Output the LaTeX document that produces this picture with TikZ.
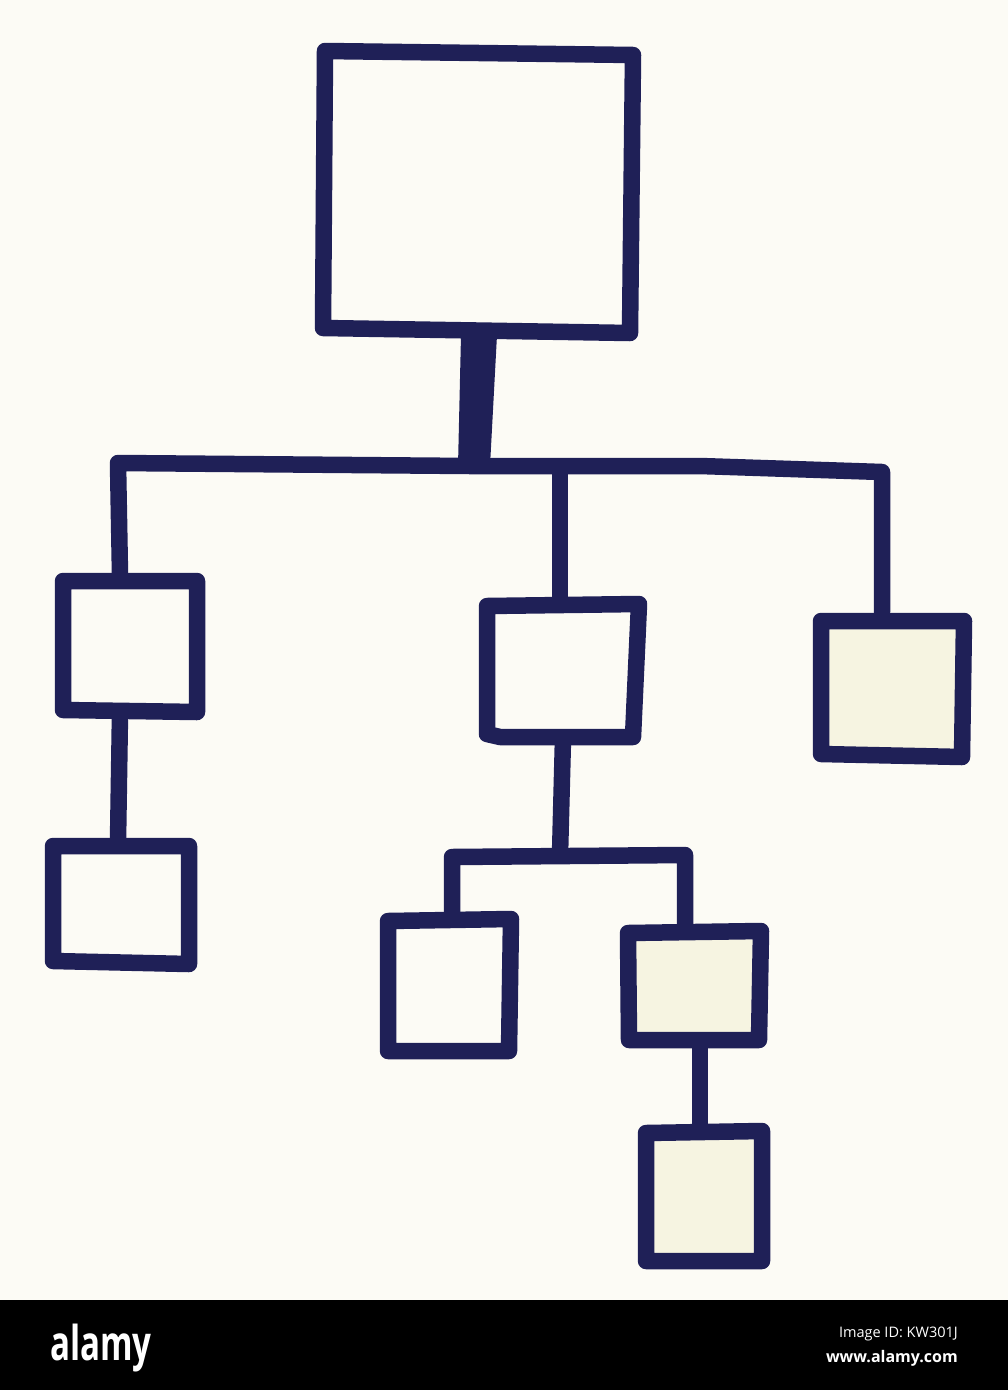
\documentclass[tikz,border=0pt]{standalone}
\usepackage{fontspec}
\setmainfont{Open Sans}
\definecolor{ink}{HTML}{1F2057}
\definecolor{paper}{HTML}{FCFBF5}
\definecolor{cream}{HTML}{F6F4E1}
\begin{document}
\begin{tikzpicture}[x=1pt,y=-1pt,
  inkline/.style={draw=ink,line width=16.5pt,line join=round,line cap=round},
  plainbox/.style={inkline,fill=paper},
  creambox/.style={inkline,fill=cream}]
\useasboundingbox (0,0) rectangle (1008,1390);
\fill[paper] (0,0) rectangle (1008,1300);
% connectors
\coordinate (c1) at (120,575);
\coordinate (c2) at (118,463);
\coordinate (c3) at (882,472);
\coordinate (c4) at (882,612);
\draw[inkline] (c1) -- (c2) -- (470,466) -- (700,466) -- (c3) -- (c4);
\draw[inkline] (560,468) -- (560,602);
\fill[ink] (461,335) -- (497,335) -- (490,466) -- (458,466) -- cycle;
\draw[inkline] (120,713) -- (118,842);
\draw[inkline] (563,738) -- (560,855);
\draw[inkline] (452,918) -- (452,857) -- (685,855) -- (685,930);
\draw[inkline] (700,1041) -- (700,1132);
% boxes
\draw[plainbox] (325,51) -- (633,55) -- (630,333) -- (323,328) -- cycle;
\draw[plainbox] (63,581) -- (197,581) -- (197,712) -- (63,710) -- cycle;
\draw[plainbox] (53,846) -- (189,846) -- (189,964) -- (53,961) -- cycle;
\draw[plainbox] (487,606) -- (639,604) -- (633,737) -- (500,737) -- (487,734) -- cycle;
\draw[creambox] (821,621) -- (964,621) -- (962,757) -- (821,754) -- cycle;
\draw[plainbox] (388,921) -- (511,919) -- (509,1051) -- (388,1051) -- cycle;
\draw[creambox] (628,933) -- (761,931) -- (759,1040) -- (629,1040) -- cycle;
\draw[creambox] (646,1133) -- (762,1131) -- (762,1261) -- (646,1261) -- cycle;
% watermark bar
\fill[black] (0,1300) rectangle (1008,1390);
\node[anchor=base west,text=white,font=\bfseries\fontsize{48}{48}\selectfont,xscale=0.69,inner sep=0pt] (logo) at (50,1360) {alamy};
\node[anchor=base east,text=white,font=\fontsize{14.5}{14.5}\selectfont,inner sep=0pt] (imgid) at (958,1337) {Image ID: KW301J};
\node[anchor=base east,text=white,font=\bfseries\fontsize{16}{16}\selectfont,inner sep=0pt] (www) at (958,1362) {www.alamy.com};
\end{tikzpicture}
\end{document}
